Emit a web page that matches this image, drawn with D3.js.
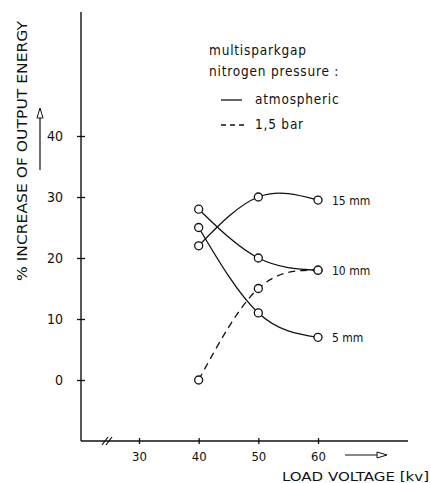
<!DOCTYPE html>
<html>
<head>
<meta charset="utf-8">
<script src="https://cdn.jsdelivr.net/npm/d3@7"></script>
<style>
  body { margin: 0; background: #fff; }
  svg text { font-family: "DejaVu Sans Condensed", "DejaVu Sans", sans-serif; fill: #111; }
</style>
</head>
<body>
<svg id="chart" width="431" height="483"></svg>
<script>
// load voltage [kV]
const voltages = [40, 50, 60];
// % increase of output energy, per spark gap
const gap15 = [22, 30, 29.5];
const gap10 = [28, 20, 18];
const gap5 = [25, 11, 7];
const bar15 = [0, 15, 18];   // 1,5 bar nitrogen
const xTicks = [30, 40, 50, 60];
const yTicks = [0, 10, 20, 30, 40];

const series = [
  { name: "15 mm", values: gap15, dashed: false, label: true },
  { name: "10 mm", values: gap10, dashed: false, label: true },
  { name: "5 mm", values: gap5, dashed: false, label: true },
  { name: "1,5 bar", values: bar15, dashed: true, label: false }
];

const svg = d3.select("#chart");
const ink = "#111";

const x = d3.scaleLinear().domain([30, 60]).range([139, 318]);
const y = d3.scaleLinear().domain([0, 40]).range([380, 136]);
const x0 = 81, yBase = 441;

// axis lines
svg.append("line").attr("x1", x0).attr("x2", x0).attr("y1", 12).attr("y2", yBase)
  .attr("stroke", ink).attr("stroke-width", 1.4);
svg.append("line").attr("x1", x0).attr("x2", 408).attr("y1", yBase).attr("y2", yBase)
  .attr("stroke", ink).attr("stroke-width", 1.4);

// y axis
const yAxis = svg.append("g").attr("transform", `translate(${x0},0)`)
  .call(d3.axisLeft(y).tickValues(yTicks).tickSize(4).tickPadding(14));
yAxis.select(".domain").remove();
yAxis.selectAll(".tick line").attr("x1", 4).attr("x2", -4).attr("stroke", ink).attr("stroke-width", 1.3);
yAxis.selectAll(".tick text").attr("font-size", 14).attr("fill", ink)
  .attr("font-family", "DejaVu Sans Condensed, sans-serif");

// x axis
const xAxis = svg.append("g").attr("transform", `translate(0,${yBase})`)
  .call(d3.axisBottom(x).tickValues(xTicks).tickSize(3).tickPadding(8));
xAxis.select(".domain").remove();
xAxis.selectAll(".tick line").attr("y1", -3).attr("y2", 3).attr("stroke", ink).attr("stroke-width", 1.3);
xAxis.selectAll(".tick text").attr("font-size", 13).attr("fill", ink)
  .attr("font-family", "DejaVu Sans Condensed, sans-serif");

// axis break
[0, 4].forEach(d => {
  svg.append("line").attr("x1", 102 + d).attr("y1", yBase + 4).attr("x2", 108 + d).attr("y2", yBase - 4)
    .attr("stroke", ink).attr("stroke-width", 1.2);
});

// axis titles
svg.append("text").attr("transform", "translate(27,151) rotate(-90)")
  .attr("text-anchor", "middle").attr("font-size", 14)
  .attr("textLength", 260).attr("lengthAdjust", "spacingAndGlyphs")
  .text("% INCREASE OF OUTPUT ENERGY");
svg.append("text").attr("x", 282).attr("y", 481).attr("font-size", 13)
  .attr("textLength", 147).attr("lengthAdjust", "spacingAndGlyphs")
  .text("LOAD VOLTAGE [kv]");

// direction arrows
svg.append("line").attr("x1", 40).attr("y1", 170).attr("x2", 40).attr("y2", 110)
  .attr("stroke", ink).attr("stroke-width", 1.2);
svg.append("path").attr("d", "M37,118 L40,108 L43,118 Z").attr("fill", "#fff").attr("stroke", ink).attr("stroke-width", 1);
svg.append("line").attr("x1", 345).attr("y1", 455).attr("x2", 385).attr("y2", 455)
  .attr("stroke", ink).attr("stroke-width", 1.2);
svg.append("path").attr("d", "M377,452 L387,455 L377,458 Z").attr("fill", "#fff").attr("stroke", ink).attr("stroke-width", 1);

// curves
const line = d3.line()
  .x((d, i) => x(voltages[i]))
  .y(d => y(d))
  .curve(d3.curveNatural);

svg.append("g").selectAll("path").data(series).join("path")
  .attr("d", d => line(d.values))
  .attr("fill", "none").attr("stroke", ink).attr("stroke-width", 1.3)
  .attr("stroke-dasharray", d => d.dashed ? "7,5" : null);

svg.append("g").selectAll("g").data(series).join("g")
  .selectAll("circle").data(d => d.values).join("circle")
  .attr("cx", (d, i) => x(voltages[i]))
  .attr("cy", d => y(d))
  .attr("r", 4)
  .attr("fill", "#fff").attr("stroke", ink).attr("stroke-width", 1.3);

// series labels at 60 kV end
svg.append("g").selectAll("text").data(series.filter(s => s.label)).join("text")
  .attr("x", x(60) + 14)
  .attr("y", d => y(d.values[2]) + 5)
  .attr("font-size", 12)
  .text(d => d.name);

// legend
const legend = svg.append("g").attr("font-size", 13.5).attr("letter-spacing", 0.8);
legend.append("text").attr("x", 209).attr("y", 55).text("multisparkgap");
legend.append("text").attr("x", 209).attr("y", 76).text("nitrogen pressure :");
legend.append("line").attr("x1", 221).attr("x2", 242).attr("y1", 100).attr("y2", 100)
  .attr("stroke", ink).attr("stroke-width", 1.3);
legend.append("text").attr("x", 255).attr("y", 104).text("atmospheric");
legend.append("line").attr("x1", 221).attr("x2", 244).attr("y1", 125).attr("y2", 125)
  .attr("stroke", ink).attr("stroke-width", 1.3).attr("stroke-dasharray", "5,4");
legend.append("text").attr("x", 255).attr("y", 129).text("1,5  bar");
</script>
</body>
</html>
